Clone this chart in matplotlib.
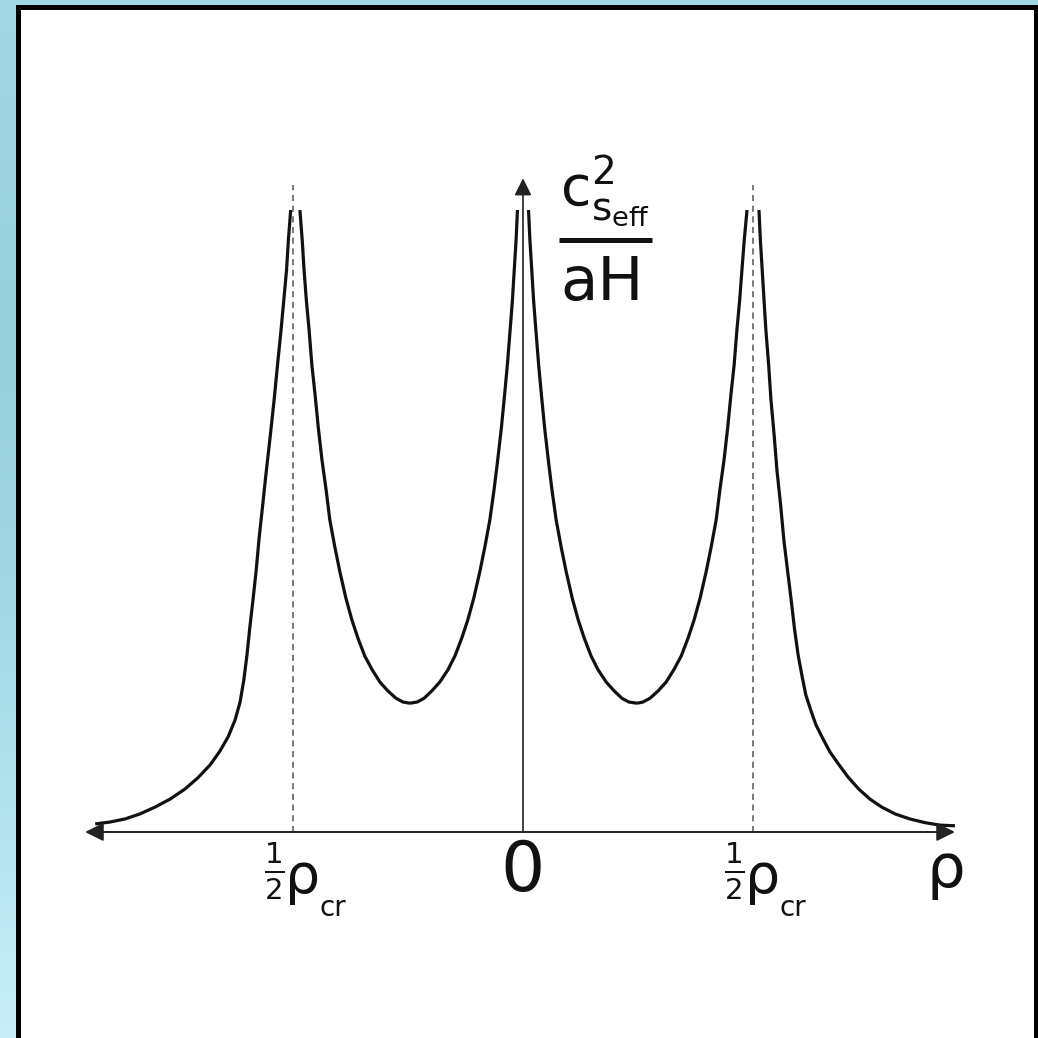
import numpy as np
import matplotlib
matplotlib.use("Agg")
import matplotlib.pyplot as plt
from matplotlib.patches import Rectangle
from matplotlib.colors import LinearSegmentedColormap

plt.rcParams['mathtext.fontset'] = 'dejavusans'
plt.rcParams['font.family'] = ['DejaVu Sans']

# ---- data (x in units of rho_cr, y in arbitrary units; peak top = 1) ----
left_outer_x = [-0.930, -0.898, -0.865, -0.833, -0.800, -0.767, -0.735, -0.707,
                -0.680, -0.659, -0.641, -0.626, -0.615, -0.607, -0.600, -0.594,
                -0.587, -0.580, -0.574, -0.567, -0.559, -0.550, -0.541, -0.533,
                -0.526, -0.520, -0.514, -0.510, -0.505]
left_outer_y = [0.013, 0.016, 0.021, 0.029, 0.040, 0.053, 0.069, 0.087,
                0.108, 0.130, 0.153, 0.180, 0.209, 0.244, 0.285, 0.328,
                0.373, 0.421, 0.470, 0.518, 0.574, 0.633, 0.695, 0.756,
                0.807, 0.855, 0.904, 0.952, 1.000]

left_inner_x = [-0.485, -0.480, -0.476, -0.471, -0.465, -0.459, -0.452, -0.445,
                -0.437, -0.428, -0.420, -0.409, -0.398, -0.385, -0.372, -0.359,
                -0.344, -0.328, -0.311, -0.294, -0.276, -0.261, -0.246]
left_inner_y = [1.000, 0.952, 0.904, 0.855, 0.807, 0.751, 0.703, 0.650,
                0.598, 0.550, 0.502, 0.458, 0.418, 0.376, 0.341, 0.312,
                0.283, 0.261, 0.241, 0.227, 0.215, 0.209, 0.207]

center_left_x = [-0.246, -0.230, -0.215, -0.198, -0.181, -0.163, -0.148, -0.133,
                 -0.120, -0.107, -0.094, -0.083, -0.072, -0.063, -0.055, -0.047,
                 -0.040, -0.034, -0.028, -0.023, -0.019, -0.015, -0.012]
center_left_y = [0.207, 0.209, 0.215, 0.227, 0.241, 0.261, 0.283, 0.312,
                 0.341, 0.376, 0.418, 0.458, 0.502, 0.550, 0.598, 0.650,
                 0.703, 0.751, 0.807, 0.855, 0.904, 0.952, 1.000]

center_right_x = [0.012, 0.015, 0.019, 0.023, 0.028, 0.034, 0.040, 0.047,
                  0.055, 0.063, 0.072, 0.083, 0.094, 0.107, 0.120, 0.133,
                  0.148, 0.163, 0.181, 0.198, 0.215, 0.230, 0.248]
center_right_y = [1.000, 0.952, 0.904, 0.855, 0.807, 0.751, 0.703, 0.650,
                  0.598, 0.550, 0.502, 0.458, 0.418, 0.376, 0.341, 0.312,
                  0.283, 0.261, 0.241, 0.227, 0.215, 0.209, 0.207]

right_inner_x = [0.248, 0.261, 0.276, 0.294, 0.311, 0.328, 0.344, 0.359,
                 0.372, 0.385, 0.398, 0.409, 0.420, 0.428, 0.437, 0.445,
                 0.452, 0.459, 0.465, 0.471, 0.476, 0.481, 0.487]
right_inner_y = [0.207, 0.209, 0.215, 0.227, 0.241, 0.261, 0.283, 0.312,
                 0.341, 0.376, 0.418, 0.458, 0.502, 0.550, 0.598, 0.650,
                 0.703, 0.751, 0.807, 0.855, 0.904, 0.952, 1.000]

right_outer_x = [0.513, 0.516, 0.520, 0.524, 0.528, 0.534, 0.539, 0.546,
                 0.552, 0.560, 0.567, 0.575, 0.583, 0.590, 0.598, 0.607,
                 0.615, 0.626, 0.637, 0.652, 0.667, 0.687, 0.707, 0.730,
                 0.754, 0.780, 0.809, 0.841, 0.874, 0.907, 0.939]
right_outer_y = [1.000, 0.952, 0.904, 0.855, 0.807, 0.751, 0.695, 0.638,
                 0.582, 0.526, 0.470, 0.421, 0.373, 0.328, 0.285, 0.249,
                 0.220, 0.195, 0.172, 0.150, 0.129, 0.108, 0.088, 0.069,
                 0.053, 0.040, 0.029, 0.021, 0.015, 0.011, 0.010]

branches = [(left_outer_x, left_outer_y), (left_inner_x, left_inner_y),
            (center_left_x, center_left_y), (center_right_x, center_right_y),
            (right_inner_x, right_inner_y), (right_outer_x, right_outer_y)]

singular_x = [-0.5, 0.5]
tick_positions = [-0.5, 0.0, 0.5]
tick_labels = ['½ρcr', '0', '½ρcr']
x_axis_label = 'ρ'

# ---- figure ----
W = H = 1038
fig = plt.figure(figsize=(W / 100, H / 100), dpi=100)

# background gradient
bg = fig.add_axes([0, 0, 1, 1])
grad = np.linspace(0, 1, 256).reshape(-1, 1)
cmap = LinearSegmentedColormap.from_list('bgc', ['#a3d9e5', '#96cedb', '#a8dde9', '#c8eef8'])
bg.imshow(grad, aspect='auto', cmap=cmap, extent=[0, 1, 0, 1], origin='upper')
bg.set_xlim(0, 1); bg.set_ylim(0, 1)
bg.axis('off')

px = lambda v: v / W
panel = Rectangle((px(17.5), px(-10)), px(1036 - 17.5), px(1038 + 10 - 6.5),
                  transform=fig.transFigure, facecolor='white', edgecolor='black',
                  linewidth=3.6, zorder=1)
bg.add_artist(panel)

ax = fig.add_axes([0, 0, 1, 1])
ax.set_xlim(-523 / 460, (1038 - 523) / 460)
ax.set_ylim((832 - 1038) / 622, 832 / 622)
ax.axis('off')
ax.patch.set_alpha(0)

# axes arrows
ax.annotate('', xy=(-0.952, 0), xytext=(0.939, 0),
            arrowprops=dict(arrowstyle='<|-|>', color='#222222', lw=1.4,
                            mutation_scale=28, shrinkA=0, shrinkB=0))
ax.annotate('', xy=(0, 1.051), xytext=(0, 0),
            arrowprops=dict(arrowstyle='-|>', color='#222222', lw=1.2,
                            mutation_scale=26, shrinkA=0, shrinkB=0))

# dashed singular lines
for xs in singular_x:
    ax.plot([xs, xs], [0, 1.04], color='#555555', lw=1.1, dashes=(4, 3))

# curve
for bx, by in branches:
    ax.plot(bx, by, color='#111111', lw=2.3, solid_capstyle='butt',
            solid_joinstyle='round')

# tick labels
txt = dict(color='#111111', ha='center', va='center')
fig.canvas.draw()
renderer = fig.canvas.get_renderer()
inv = ax.transData.inverted()
for xp, lab in zip(tick_positions, tick_labels):
    if lab == '0':
        ax.text(xp, -0.064, lab, fontsize=50, **txt)
    else:
        rho = ax.text(xp + 0.020, -0.074, 'ρ', fontsize=40, **txt)
        bb = rho.get_window_extent(renderer)
        x_left = inv.transform((bb.x0, bb.y0))[0]
        x_right = inv.transform((bb.x1, bb.y0))[0]
        ax.text(x_left, -0.064, r'$\frac{1}{2}$', fontsize=30, color='#111111',
                ha='right', va='center')
        ax.text(x_right, -0.122, 'cr', fontsize=20, color='#111111',
                ha='left', va='center')

ax.text(0.920, -0.062, x_axis_label, fontsize=44, **txt)

# y-axis label as a fraction
ax.text(0.080, 1.030, r'$\mathrm{c}^{2}_{\mathrm{s}_{\mathrm{eff}}}$', fontsize=40,
        ha='left', va='center', color='#111111')
ax.plot([0.078, 0.280], [0.952, 0.952], color='#111111', lw=3.6, solid_capstyle='butt')
ax.text(0.172, 0.882, 'aH', fontsize=44, **txt)

fig.savefig('out.png', dpi=100)
